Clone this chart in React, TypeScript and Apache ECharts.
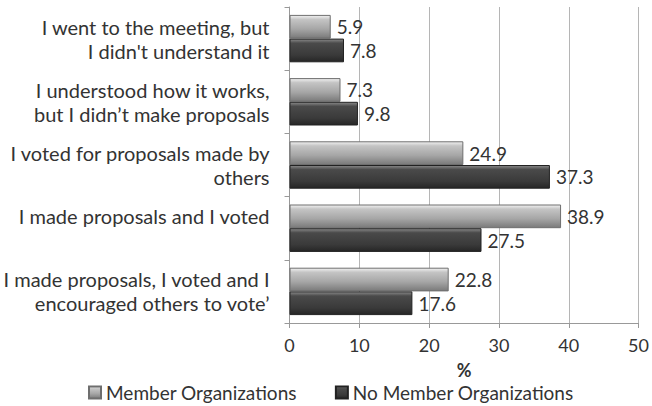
import React, { useEffect, useRef } from "react";
import * as echarts from "echarts";

const categories = [
  "I went to the meeting, but\nI didn't understand it",
  "I understood how it works,\nbut I didn\u2019t make proposals",
  "I voted for proposals made by\nothers",
  "I made proposals and I voted\n ",
  "I made proposals, I voted and I\nencouraged others to vote\u2019",
];
const memberValues = [5.9, 7.3, 24.9, 38.9, 22.8];
const noMemberValues = [7.8, 9.8, 37.3, 27.5, 17.6];
const seriesNames = ["Member Organizations", "No Member Organizations"];

const FONT = "Lato";

const lightGrad = new echarts.graphic.LinearGradient(0, 0, 0, 1, [
  { offset: 0, color: "#f2f2f2" },
  { offset: 0.18, color: "#c4c4c4" },
  { offset: 0.6, color: "#a6a6a6" },
  { offset: 1, color: "#7a7a7a" },
]);
const darkGrad = new echarts.graphic.LinearGradient(0, 0, 0, 1, [
  { offset: 0, color: "#8a8a8a" },
  { offset: 0.18, color: "#4a4a4a" },
  { offset: 0.7, color: "#3a3a3a" },
  { offset: 1, color: "#262626" },
]);

export default function App() {
  const ref = useRef<HTMLDivElement>(null);
  useEffect(() => {
    if (!ref.current) return;
    const chart = echarts.init(ref.current, null, { renderer: "svg" });
    const labelStyle = {
      show: true,
      position: "right" as const,
      distance: 6,
      fontFamily: FONT,
      fontSize: 19,
      color: "#333",
    };
    chart.setOption({
      animation: false,
      backgroundColor: "#fff",
      textStyle: { fontFamily: FONT },
      grid: { left: 286, right: 11, top: 7, bottom: 83 },
      legend: {
        top: 379,
        left: 83,
        icon: "rect",
        itemWidth: 12,
        itemHeight: 12,
        itemGap: 38,
        padding: [4, 5, 4, 5],
        textStyle: { fontFamily: FONT, fontSize: 19, color: "#333" },
        data: seriesNames,
      },
      xAxis: {
        type: "value",
        min: 0,
        max: 50,
        interval: 10,
        name: "%",
        nameLocation: "middle",
        nameGap: 38,
        nameTextStyle: { fontFamily: FONT, fontSize: 18, fontWeight: "bold", color: "#333" },
        axisLine: { show: true, lineStyle: { color: "#999" } },
        axisTick: { show: true, length: 5, lineStyle: { color: "#999" } },
        axisLabel: { fontFamily: FONT, fontSize: 18, color: "#333", margin: 13 },
        splitLine: { show: true, lineStyle: { color: "#b5b5b5", width: 1 } },
      },
      yAxis: {
        type: "category",
        inverse: true,
        data: categories,
        axisLine: { show: true, lineStyle: { color: "#999" } },
        axisTick: { show: true, length: 5, lineStyle: { color: "#999" } },
        axisLabel: {
          fontFamily: FONT,
          fontSize: 20,
          color: "#333",
          margin: 20,
          lineHeight: 24,
          align: "right",
          padding: [0, 0, 11, 0],
        },
      },
      series: [
        {
          name: seriesNames[0],
          type: "bar",
          data: memberValues,
          barGap: "0%",
          barCategoryGap: "25%",
          itemStyle: { color: lightGrad, borderColor: "#6e6e6e", borderWidth: 1 },
          label: labelStyle,
        },
        {
          name: seriesNames[1],
          type: "bar",
          data: noMemberValues,
          barGap: "0%",
          barCategoryGap: "25%",
          itemStyle: { color: darkGrad, borderColor: "#222", borderWidth: 1 },
          label: labelStyle,
        },
      ],
    });
    return () => chart.dispose();
  }, []);
  return <div ref={ref} style={{ width: 652, height: 406, position: "absolute", left: 0, top: 0 }} />;
}
